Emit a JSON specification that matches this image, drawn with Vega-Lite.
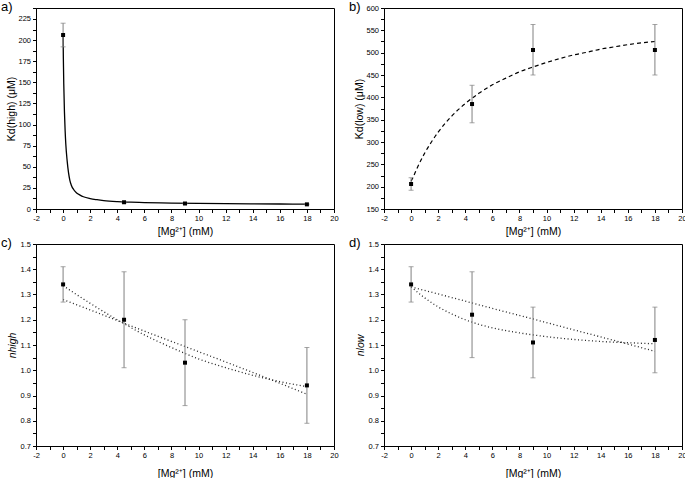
{
  "$schema": "https://vega.github.io/schema/vega-lite/v6.json",
  "padding": {"left": 0, "top": 0, "right": 0, "bottom": 0},
  "background": "white",
  "columns": 2,
  "spacing": {"row": 35, "column": 50},
  "bounds": "flush",
  "datasets": {
    "a_pts": [
      {"x": 0, "y": 206, "lo": 192, "hi": 220},
      {"x": 4.5, "y": 8, "lo": 7.2, "hi": 8.8},
      {"x": 9, "y": 6.5, "lo": 5.9, "hi": 7.1},
      {"x": 18, "y": 5.5, "lo": 5, "hi": 6}
    ],
    "a_fit": [
      {"x": 0, "y": 206}, {"x": 0.02, "y": 178}, {"x": 0.05, "y": 148}, {"x": 0.1, "y": 115},
      {"x": 0.15, "y": 93}, {"x": 0.2, "y": 77}, {"x": 0.3, "y": 57}, {"x": 0.4, "y": 43},
      {"x": 0.5, "y": 34}, {"x": 0.6, "y": 28.5}, {"x": 0.8, "y": 22.5}, {"x": 1, "y": 19},
      {"x": 1.25, "y": 16.5}, {"x": 1.5, "y": 14.5}, {"x": 2, "y": 12.3}, {"x": 2.5, "y": 11},
      {"x": 3, "y": 10}, {"x": 4, "y": 8.8}, {"x": 5, "y": 8.1}, {"x": 6, "y": 7.6},
      {"x": 8, "y": 7}, {"x": 10, "y": 6.6}, {"x": 12, "y": 6.3}, {"x": 14, "y": 6.1},
      {"x": 16, "y": 5.9}, {"x": 18, "y": 5.8}
    ],
    "b_pts": [
      {"x": 0, "y": 206, "lo": 192, "hi": 220},
      {"x": 4.5, "y": 385, "lo": 343, "hi": 427},
      {"x": 9, "y": 506, "lo": 450, "hi": 563},
      {"x": 18, "y": 506, "lo": 450, "hi": 563}
    ],
    "b_fit": [
      {"x": 0, "y": 212}, {"x": 0.25, "y": 228}, {"x": 0.5, "y": 245}, {"x": 1, "y": 275},
      {"x": 1.5, "y": 300}, {"x": 2, "y": 322}, {"x": 3, "y": 358}, {"x": 4, "y": 386},
      {"x": 5, "y": 409}, {"x": 6, "y": 428}, {"x": 7, "y": 443}, {"x": 8, "y": 457},
      {"x": 9, "y": 468}, {"x": 10, "y": 478}, {"x": 11, "y": 487}, {"x": 12, "y": 495},
      {"x": 13, "y": 501}, {"x": 14, "y": 508}, {"x": 15, "y": 513}, {"x": 16, "y": 518},
      {"x": 17, "y": 522}, {"x": 18, "y": 525}
    ],
    "c_pts": [
      {"x": 0, "y": 1.34, "lo": 1.27, "hi": 1.41},
      {"x": 4.5, "y": 1.2, "lo": 1.01, "hi": 1.39},
      {"x": 9, "y": 1.03, "lo": 0.86, "hi": 1.2},
      {"x": 18, "y": 0.94, "lo": 0.79, "hi": 1.09}
    ],
    "c_fit": [
      {"fit": "A", "x": 0, "y": 1.28}, {"fit": "A", "x": 3, "y": 1.218}, {"fit": "A", "x": 6, "y": 1.155},
      {"fit": "A", "x": 9, "y": 1.094}, {"fit": "A", "x": 12, "y": 1.033}, {"fit": "A", "x": 15, "y": 0.97},
      {"fit": "A", "x": 18, "y": 0.905},
      {"fit": "B", "x": 0, "y": 1.335}, {"fit": "B", "x": 2, "y": 1.265}, {"fit": "B", "x": 4, "y": 1.2},
      {"fit": "B", "x": 6, "y": 1.14}, {"fit": "B", "x": 8, "y": 1.09}, {"fit": "B", "x": 10, "y": 1.045},
      {"fit": "B", "x": 12, "y": 1.01}, {"fit": "B", "x": 14, "y": 0.98}, {"fit": "B", "x": 16, "y": 0.955},
      {"fit": "B", "x": 18, "y": 0.935}
    ],
    "d_pts": [
      {"x": 0, "y": 1.34, "lo": 1.27, "hi": 1.41},
      {"x": 4.5, "y": 1.22, "lo": 1.05, "hi": 1.39},
      {"x": 9, "y": 1.11, "lo": 0.97, "hi": 1.25},
      {"x": 18, "y": 1.12, "lo": 0.99, "hi": 1.25}
    ],
    "d_fit": [
      {"fit": "A", "x": 0, "y": 1.33}, {"fit": "A", "x": 3, "y": 1.288}, {"fit": "A", "x": 6, "y": 1.245},
      {"fit": "A", "x": 9, "y": 1.203}, {"fit": "A", "x": 12, "y": 1.16}, {"fit": "A", "x": 15, "y": 1.118},
      {"fit": "A", "x": 18, "y": 1.075},
      {"fit": "B", "x": 0, "y": 1.33}, {"fit": "B", "x": 1, "y": 1.287}, {"fit": "B", "x": 2, "y": 1.251},
      {"fit": "B", "x": 3, "y": 1.223}, {"fit": "B", "x": 4, "y": 1.2}, {"fit": "B", "x": 5, "y": 1.182},
      {"fit": "B", "x": 6, "y": 1.168}, {"fit": "B", "x": 7, "y": 1.157}, {"fit": "B", "x": 8, "y": 1.148},
      {"fit": "B", "x": 9, "y": 1.14}, {"fit": "B", "x": 10, "y": 1.133}, {"fit": "B", "x": 12, "y": 1.122},
      {"fit": "B", "x": 14, "y": 1.114}, {"fit": "B", "x": 16, "y": 1.109}, {"fit": "B", "x": 18, "y": 1.105}
    ]
  },
  "concat": [
    {
      "width": 298, "height": 201,
      "title": {"text": "a)"},
      "layer": [
        {
          "data": {"name": "a_fit"},
          "mark": {"type": "line", "color": "#000", "strokeWidth": 1.3, "interpolate": "monotone"},
          "encoding": {
            "x": {"field": "x", "type": "quantitative", "title": "[Mg²⁺] (mM)", "scale": {"domain": [-2, 20], "nice": false, "zero": false},
              "axis": {"values": [-2,-1,0,1,2,3,4,5,6,7,8,9,10,11,12,13,14,15,16,17,18,19,20], "tickCount": 200, "labelOverlap": false, "format": "d",
                "labelExpr": "datum.value % 2 === 0 ? replace(datum.label, '−', '-') : ''",
                "encode": {"ticks": {"update": {"y2": {"signal": "datum.value % 2 === 0 ? 3.5 : 2"}}}}, "titlePadding": 4.5}},
            "y": {"field": "y", "type": "quantitative", "title": "Kd(high) (μM)", "scale": {"domain": [0, 238], "nice": false, "zero": false},
              "axis": {"values": [0,12.5,25,37.5,50,62.5,75,87.5,100,112.5,125,137.5,150,162.5,175,187.5,200,212.5,225,237.5], "tickCount": 200, "labelOverlap": false, "format": "d",
                "labelExpr": "datum.value % 25 === 0 ? datum.label : ''",
                "encode": {"ticks": {"update": {"x2": {"signal": "datum.value % 25 === 0 ? -3.5 : -2"}}}}, "titlePadding": 1}}
          }
        },
        {
          "data": {"name": "a_pts"},
          "mark": {"type": "errorbar", "ticks": {"size": 5, "color": "#808080"}, "rule": {"color": "#808080", "strokeWidth": 1}},
          "encoding": {
            "x": {"field": "x", "type": "quantitative", "title": "[Mg²⁺] (mM)", "scale": {"domain": [-2, 20], "nice": false, "zero": false}},
            "y": {"field": "lo", "type": "quantitative", "title": "Kd(high) (μM)", "scale": {"domain": [0, 238], "nice": false, "zero": false}},
            "y2": {"field": "hi"}
          }
        },
        {
          "data": {"name": "a_pts"},
          "mark": {"type": "square", "size": 16, "color": "#000", "opacity": 1, "filled": true},
          "encoding": {
            "x": {"field": "x", "type": "quantitative", "title": "[Mg²⁺] (mM)", "scale": {"domain": [-2, 20], "nice": false, "zero": false}},
            "y": {"field": "y", "type": "quantitative", "title": "Kd(high) (μM)", "scale": {"domain": [0, 238], "nice": false, "zero": false}}
          }
        }
      ]
    },
    {
      "width": 298, "height": 201,
      "title": {"text": "b)"},
      "layer": [
        {
          "data": {"name": "b_fit"},
          "mark": {"type": "line", "color": "#000", "strokeWidth": 1.2, "strokeDash": [4, 3], "interpolate": "monotone"},
          "encoding": {
            "x": {"field": "x", "type": "quantitative", "title": "[Mg²⁺] (mM)", "scale": {"domain": [-2, 20], "nice": false, "zero": false},
              "axis": {"values": [-2,-1,0,1,2,3,4,5,6,7,8,9,10,11,12,13,14,15,16,17,18,19,20], "tickCount": 200, "labelOverlap": false, "format": "d",
                "labelExpr": "datum.value % 2 === 0 ? replace(datum.label, '−', '-') : ''",
                "encode": {"ticks": {"update": {"y2": {"signal": "datum.value % 2 === 0 ? 3.5 : 2"}}}}, "titlePadding": 4.5}},
            "y": {"field": "y", "type": "quantitative", "title": "Kd(low) (μM)", "scale": {"domain": [150, 600], "nice": false, "zero": false},
              "axis": {"values": [150,175,200,225,250,275,300,325,350,375,400,425,450,475,500,525,550,575,600], "tickCount": 200, "labelOverlap": false, "format": "d",
                "labelExpr": "datum.value % 50 === 0 ? datum.label : ''",
                "encode": {"ticks": {"update": {"x2": {"signal": "datum.value % 50 === 0 ? -3.5 : -2"}}}}, "titlePadding": 1}}
          }
        },
        {
          "data": {"name": "b_pts"},
          "mark": {"type": "errorbar", "ticks": {"size": 5, "color": "#808080"}, "rule": {"color": "#808080", "strokeWidth": 1}},
          "encoding": {
            "x": {"field": "x", "type": "quantitative", "title": "[Mg²⁺] (mM)", "scale": {"domain": [-2, 20], "nice": false, "zero": false}},
            "y": {"field": "lo", "type": "quantitative", "title": "Kd(low) (μM)", "scale": {"domain": [150, 600], "nice": false, "zero": false}},
            "y2": {"field": "hi"}
          }
        },
        {
          "data": {"name": "b_pts"},
          "mark": {"type": "square", "size": 16, "color": "#000", "opacity": 1, "filled": true},
          "encoding": {
            "x": {"field": "x", "type": "quantitative", "title": "[Mg²⁺] (mM)", "scale": {"domain": [-2, 20], "nice": false, "zero": false}},
            "y": {"field": "y", "type": "quantitative", "title": "Kd(low) (μM)", "scale": {"domain": [150, 600], "nice": false, "zero": false}}
          }
        }
      ]
    },
    {
      "width": 298, "height": 202,
      "title": {"text": "c)"},
      "layer": [
        {
          "data": {"name": "c_fit"},
          "mark": {"type": "line", "color": "#222", "strokeWidth": 1.3, "strokeDash": [1, 2.5], "interpolate": "monotone"},
          "encoding": {
            "detail": {"field": "fit"},
            "x": {"field": "x", "type": "quantitative", "title": "[Mg²⁺] (mM)", "scale": {"domain": [-2, 20], "nice": false, "zero": false},
              "axis": {"values": [-2,-1,0,1,2,3,4,5,6,7,8,9,10,11,12,13,14,15,16,17,18,19,20], "tickCount": 200, "labelOverlap": false, "format": "d",
                "labelExpr": "datum.value % 2 === 0 ? replace(datum.label, '−', '-') : ''",
                "encode": {"ticks": {"update": {"y2": {"signal": "datum.value % 2 === 0 ? 3.5 : 2"}}}}, "titlePadding": 9}},
            "y": {"field": "y", "type": "quantitative", "title": "nhigh", "scale": {"domain": [0.7, 1.5], "nice": false, "zero": false},
              "axis": {"values": [0.7,0.75,0.8,0.85,0.9,0.95,1.0,1.05,1.1,1.15,1.2,1.25,1.3,1.35,1.4,1.45,1.5], "tickCount": 200, "labelOverlap": false,
                "titleFontStyle": "italic", "format": ".1f",
                "labelExpr": "abs(datum.value*10 - round(datum.value*10)) < 0.001 ? datum.label : ''",
                "encode": {"ticks": {"update": {"x2": {"signal": "abs(datum.value*10 - round(datum.value*10)) < 0.001 ? -3.5 : -2"}}}}, "titlePadding": 3}}
          }
        },
        {
          "data": {"name": "c_pts"},
          "mark": {"type": "errorbar", "ticks": {"size": 5, "color": "#808080"}, "rule": {"color": "#808080", "strokeWidth": 1}},
          "encoding": {
            "x": {"field": "x", "type": "quantitative", "title": "[Mg²⁺] (mM)", "scale": {"domain": [-2, 20], "nice": false, "zero": false}},
            "y": {"field": "lo", "type": "quantitative", "title": "nhigh", "scale": {"domain": [0.7, 1.5], "nice": false, "zero": false}},
            "y2": {"field": "hi"}
          }
        },
        {
          "data": {"name": "c_pts"},
          "mark": {"type": "square", "size": 16, "color": "#000", "opacity": 1, "filled": true},
          "encoding": {
            "x": {"field": "x", "type": "quantitative", "title": "[Mg²⁺] (mM)", "scale": {"domain": [-2, 20], "nice": false, "zero": false}},
            "y": {"field": "y", "type": "quantitative", "title": "nhigh", "scale": {"domain": [0.7, 1.5], "nice": false, "zero": false}}
          }
        }
      ]
    },
    {
      "width": 298, "height": 202,
      "title": {"text": "d)"},
      "layer": [
        {
          "data": {"name": "d_fit"},
          "mark": {"type": "line", "color": "#222", "strokeWidth": 1.3, "strokeDash": [1, 2.5], "interpolate": "monotone"},
          "encoding": {
            "detail": {"field": "fit"},
            "x": {"field": "x", "type": "quantitative", "title": "[Mg²⁺] (mM)", "scale": {"domain": [-2, 20], "nice": false, "zero": false},
              "axis": {"values": [-2,-1,0,1,2,3,4,5,6,7,8,9,10,11,12,13,14,15,16,17,18,19,20], "tickCount": 200, "labelOverlap": false, "format": "d",
                "labelExpr": "datum.value % 2 === 0 ? replace(datum.label, '−', '-') : ''",
                "encode": {"ticks": {"update": {"y2": {"signal": "datum.value % 2 === 0 ? 3.5 : 2"}}}}, "titlePadding": 9}},
            "y": {"field": "y", "type": "quantitative", "title": "nlow", "scale": {"domain": [0.7, 1.5], "nice": false, "zero": false},
              "axis": {"values": [0.7,0.75,0.8,0.85,0.9,0.95,1.0,1.05,1.1,1.15,1.2,1.25,1.3,1.35,1.4,1.45,1.5], "tickCount": 200, "labelOverlap": false,
                "titleFontStyle": "italic", "format": ".1f",
                "labelExpr": "abs(datum.value*10 - round(datum.value*10)) < 0.001 ? datum.label : ''",
                "encode": {"ticks": {"update": {"x2": {"signal": "abs(datum.value*10 - round(datum.value*10)) < 0.001 ? -3.5 : -2"}}}}, "titlePadding": 3}}
          }
        },
        {
          "data": {"name": "d_pts"},
          "mark": {"type": "errorbar", "ticks": {"size": 5, "color": "#808080"}, "rule": {"color": "#808080", "strokeWidth": 1}},
          "encoding": {
            "x": {"field": "x", "type": "quantitative", "title": "[Mg²⁺] (mM)", "scale": {"domain": [-2, 20], "nice": false, "zero": false}},
            "y": {"field": "lo", "type": "quantitative", "title": "nlow", "scale": {"domain": [0.7, 1.5], "nice": false, "zero": false}},
            "y2": {"field": "hi"}
          }
        },
        {
          "data": {"name": "d_pts"},
          "mark": {"type": "square", "size": 16, "color": "#000", "opacity": 1, "filled": true},
          "encoding": {
            "x": {"field": "x", "type": "quantitative", "title": "[Mg²⁺] (mM)", "scale": {"domain": [-2, 20], "nice": false, "zero": false}},
            "y": {"field": "y", "type": "quantitative", "title": "nlow", "scale": {"domain": [0.7, 1.5], "nice": false, "zero": false}}
          }
        }
      ]
    }
  ],
  "config": {
    "font": "Liberation Sans",
    "view": {"stroke": "#000", "strokeWidth": 1},
    "title": {"anchor": "start", "frame": "group", "fontSize": 13, "fontWeight": "normal", "font": "Liberation Sans",
      "color": "#000", "baseline": "alphabetic", "offset": 0, "dx": -35, "dy": 14},
    "axis": {"grid": false, "domainColor": "#000", "tickColor": "#000", "labelColor": "#000", "titleColor": "#000",
      "labelFont": "Liberation Sans", "titleFont": "Liberation Sans", "labelFontSize": 7.5, "titleFontSize": 10.5,
      "titleFontWeight": "normal", "labelFlush": false, "labelOverlap": false, "labelPadding": 2, "tickSize": 3.5,
      "tickWidth": 1, "domainWidth": 1}
  }
}
